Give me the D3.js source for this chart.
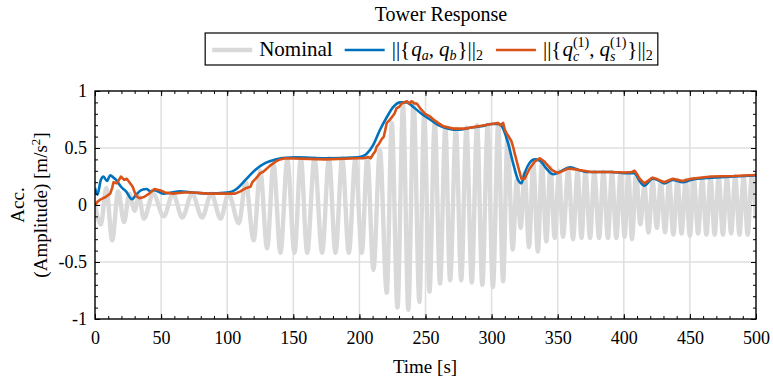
<!DOCTYPE html>
<html>
<head>
<meta charset="utf-8">
<script src="https://cdn.jsdelivr.net/npm/d3@7"></script>
<style>
  body { margin: 0; background: #fff; }
  text { font-family: "Liberation Serif", "Times New Roman", serif; fill: #000; }
</style>
</head>
<body>
<svg id="chart" width="773" height="382"></svg>
<script>
const nomT = [0, 4.5, 8.5, 13, 17.5, 22, 26, 30, 33, 37, 44, 52, 59, 66, 73.5, 81, 88, 95, 101,
  108.8, 114, 120, 125, 130.2, 135, 140.3, 145.5, 150.9, 155.7, 160.5, 166, 171.8, 177, 181.9, 187, 192, 197,
  201.8, 206, 210.6, 215.5, 220.7, 224.5, 228.8, 233, 237, 241, 245.4, 249, 253, 257, 261, 265, 268.6, 273,
  277, 281, 285, 289, 293, 297, 301, 305, 308.7, 312, 316, 319, 322, 325, 328.3, 331.5, 335, 338, 341.4,
  344.5, 347.7, 351, 354, 358, 361.6, 365, 368, 371, 374.5, 377.7, 381.3, 384.6, 388, 391, 394.4, 397.5,
  400.6, 403.4, 406.2, 409.3, 412.5, 415.6, 418.7, 421.8, 425, 428, 431.2, 434.3, 437.5, 440.6, 443.7, 446.8,
  450, 453, 456.2, 459.3, 462.5, 465.6, 468.7, 471.8, 475, 478, 481.2, 484.3, 487.5, 490.6, 493.7, 496.8, 500]
const nomV = [0, -0.17, 0.15, -0.31, 0.12, -0.15, 0.1, -0.05, 0.08, -0.12, 0.1, -0.1, 0.1, -0.11, 0.1, -0.11, 0.1, -0.12, 0.1,
  -0.16, 0.2, -0.31, 0.3, -0.38, 0.36, -0.42, 0.4, -0.42, 0.41, -0.42, 0.41, -0.42, 0.41, -0.42, 0.41, -0.42, 0.41,
  -0.42, 0.42, -0.57, 0.48, -0.77, 0.72, -0.9, 0.88, -0.92, 0.9, -0.85, 0.8, -0.76, 0.73, -0.69, 0.68, -0.66, 0.67,
  -0.66, 0.68, -0.68, 0.7, -0.7, 0.7, -0.72, 0.71, -0.67, 0.6, -0.39, 0.22, -0.2, 0.28, -0.37, 0.37, -0.41, 0.38, -0.32,
  0.33, -0.29, 0.3, -0.28, 0.31, -0.3, 0.3, -0.29, 0.29, -0.29, 0.29, -0.29, 0.29, -0.29, 0.29, -0.29, 0.28,
  -0.28, 0.28, -0.3, 0.27, -0.17, 0.17, -0.24, 0.21, -0.2, 0.2, -0.24, 0.21, -0.26, 0.22, -0.25, 0.22,
  -0.27, 0.23, -0.25, 0.23, -0.26, 0.24, -0.26, 0.24, -0.26, 0.24, -0.25, 0.25, -0.26, 0.25, -0.26, 0.25, -0.12]

// ||{q_a, q_b}||_2
const qabT = [0, 1.8, 4.4, 6.4, 9, 11.5, 14, 16, 19.7, 23.5, 28, 31, 35, 39, 42, 45, 51.6, 58, 64, 74, 85, 100,
  104, 108, 113.8, 121.4, 129, 136.5, 144, 151.7, 174, 199, 203, 205.5, 210.6, 215.6, 220.7, 225.7, 230.8, 235.8,
  240.8, 247, 253.4, 259.7, 267.3, 275, 285, 292.5, 300, 306, 308.7, 312.5, 316.2, 320, 322.5, 325, 328.8, 332.6,
  336.4, 341.4, 346.5, 351.5, 359, 365.4, 371.6, 380.5, 390.6, 400.6, 408, 412, 415.5, 421.8, 425.6, 430.6, 437,
  444.5, 450.8, 466, 483.5, 500]
const qabV = [0.15, 0.09, 0.22, 0.25, 0.21, 0.26, 0.24, 0.22, 0.16, 0.12, 0.05, 0.09, 0.13, 0.14, 0.12, 0.13, 0.1, 0.11, 0.12, 0.11, 0.1, 0.11,
  0.12, 0.15, 0.22, 0.31, 0.37, 0.4, 0.415, 0.418, 0.41, 0.418, 0.43, 0.45, 0.53, 0.66, 0.77, 0.86, 0.9, 0.9,
  0.86, 0.8, 0.75, 0.7, 0.67, 0.66, 0.68, 0.69, 0.71, 0.71, 0.67, 0.54, 0.37, 0.22, 0.19, 0.28, 0.37, 0.4,
  0.39, 0.32, 0.27, 0.29, 0.33, 0.31, 0.29, 0.29, 0.29, 0.28, 0.28, 0.21, 0.17, 0.23, 0.22, 0.19, 0.22,
  0.2, 0.22, 0.24, 0.25, 0.26]

// ||{q_c^(1), q_s^(1)}||_2
const qcsT = [0, 2, 4.4, 8, 11.5, 13, 14, 16.5, 19.7, 22, 24, 26, 28.5, 31, 33.6, 37, 41, 45, 49, 53, 59, 67, 74.8, 85, 100,
  106, 110, 113.8, 117.6, 119, 121.4, 123, 125, 127, 129, 131, 133, 136.5, 140, 144, 174, 199, 203, 206.8, 208.5,
  210.6, 212, 213, 215, 217, 218.5, 220.7, 222.5, 224.5, 226.5, 228.2, 230, 232, 234, 235.8, 237.5, 239.5, 241.5,
  243.4, 246.5, 249.7, 253, 256, 259.5, 263.6, 271, 279.7, 290, 300, 304.7, 306.5, 308.7, 310, 311.3, 313, 315,
  316.5, 317.5, 320, 322.5, 325, 328.8, 332.6, 336.4, 340, 345.2, 350.2, 357.8, 365, 375.5, 390, 400.6, 406,
  408.2, 410, 412, 415.5, 421.8, 425.6, 430.6, 437, 444.5, 450.8, 466, 483.5, 498.6, 500]
const qcsV = [0, 0.03, 0.05, 0.07, 0.1, 0.15, 0.2, 0.19, 0.25, 0.22, 0.23, 0.2, 0.16, 0.08, 0.06, 0.07, 0.1, 0.14, 0.13, 0.11, 0.1, 0.11, 0.11, 0.1, 0.1,
  0.1, 0.12, 0.146, 0.16, 0.2, 0.23, 0.25, 0.28, 0.29, 0.31, 0.33, 0.35, 0.38, 0.4, 0.41, 0.4, 0.41, 0.41, 0.42, 0.41,
  0.45, 0.47, 0.51, 0.54, 0.58, 0.6, 0.72, 0.74, 0.77, 0.8, 0.85, 0.86, 0.89, 0.9, 0.91, 0.89, 0.91, 0.89,
  0.89, 0.84, 0.8, 0.78, 0.75, 0.72, 0.69, 0.67, 0.67, 0.69, 0.71, 0.72, 0.7, 0.72, 0.66, 0.63, 0.6, 0.56,
  0.5, 0.45, 0.34, 0.23, 0.23, 0.32, 0.38, 0.41, 0.38, 0.31, 0.28, 0.32, 0.31, 0.29, 0.29, 0.285, 0.29,
  0.3, 0.27, 0.23, 0.19, 0.24, 0.225, 0.2, 0.23, 0.21, 0.23, 0.25, 0.254, 0.263, 0.265]

const xTicks = [0, 50, 100, 150, 200, 250, 300, 350, 400, 450, 500]
const yTicks = [-1, -0.5, 0, 0.5, 1]
const yTickLabels = ["-1", "-0.5", "0", "0.5", "1"]

const svg = d3.select("#chart")
const pLeft = 95, pRight = 756, pTop = 91, pBottom = 319

const x = d3.scaleLinear().domain([0, 500]).range([pLeft, pRight])
const y = d3.scaleLinear().domain([-1, 1]).range([pBottom, pTop])

const gridColor = "#dfdfdf"

// grid
svg.append("g").selectAll("line")
  .data(xTicks.slice(1, -1))
  .join("line")
    .attr("x1", d => x(d)).attr("x2", d => x(d))
    .attr("y1", pTop).attr("y2", pBottom)
    .attr("stroke", gridColor).attr("stroke-width", 1.5)
svg.append("g").selectAll("line")
  .data(yTicks.slice(1, -1))
  .join("line")
    .attr("y1", d => y(d)).attr("y2", d => y(d))
    .attr("x1", pLeft).attr("x2", pRight)
    .attr("stroke", gridColor).attr("stroke-width", 1.5)

svg.append("clipPath").attr("id", "clip")
  .append("rect").attr("x", pLeft).attr("y", pTop).attr("width", pRight - pLeft).attr("height", pBottom - pTop)

const plot = svg.append("g").attr("clip-path", "url(#clip)")

const series = [
  { t: nomT, v: nomV, color: "#d9d9d9", width: 4.4, curve: d3.curveMonotoneX },
  { t: qabT, v: qabV, color: "#0072bd", width: 2.6, curve: d3.curveMonotoneX },
  { t: qcsT, v: qcsV, color: "#d95319", width: 2.6, curve: d3.curveLinear }
]

series.forEach(s => {
  const line = d3.line()
    .x((d, i) => x(s.t[i]))
    .y(d => y(d))
    .curve(s.curve)
  plot.append("path")
    .attr("d", line(s.v))
    .attr("fill", "none")
    .attr("stroke", s.color)
    .attr("stroke-width", s.width)
    .attr("stroke-linejoin", "round")
})

// axes, ticks pointing inwards on all four sides
const minorX = d3.range(0, 501, 10)
const minorY = d3.range(-10, 11).map(d => d / 10)

function styleAxis(g) {
  g.attr("font-family", null)
  g.select(".domain").remove()
  g.selectAll(".tick line").attr("stroke", "#000").attr("stroke-width", 1)
  g.selectAll("text").style("font-size", "18px")
}

svg.append("g").attr("transform", `translate(0,${pBottom})`)
  .call(d3.axisBottom(x).tickValues(minorX).tickSize(-3).tickFormat(""))
  .call(styleAxis)
svg.append("g").attr("transform", `translate(0,${pTop})`)
  .call(d3.axisTop(x).tickValues(minorX).tickSize(-3).tickFormat(""))
  .call(styleAxis)
svg.append("g").attr("transform", `translate(${pLeft},0)`)
  .call(d3.axisLeft(y).tickValues(minorY).tickSize(-3).tickFormat(""))
  .call(styleAxis)
svg.append("g").attr("transform", `translate(${pRight},0)`)
  .call(d3.axisRight(y).tickValues(minorY).tickSize(-3).tickFormat(""))
  .call(styleAxis)

svg.append("g").attr("transform", `translate(0,${pBottom})`)
  .call(d3.axisBottom(x).tickValues(xTicks).tickSize(-5).tickPadding(12).tickFormat(d3.format("d")))
  .call(styleAxis)
svg.append("g").attr("transform", `translate(0,${pTop})`)
  .call(d3.axisTop(x).tickValues(xTicks).tickSize(-5).tickFormat(""))
  .call(styleAxis)
svg.append("g").attr("transform", `translate(${pLeft},0)`)
  .call(d3.axisLeft(y).tickValues(yTicks).tickSize(-5).tickPadding(8).tickFormat((d, i) => yTickLabels[i]))
  .call(styleAxis)
svg.append("g").attr("transform", `translate(${pRight},0)`)
  .call(d3.axisRight(y).tickValues(yTicks).tickSize(-5).tickFormat(""))
  .call(styleAxis)

svg.append("rect")
  .attr("x", pLeft).attr("y", pTop).attr("width", pRight - pLeft).attr("height", pBottom - pTop)
  .attr("fill", "none").attr("stroke", "#000").attr("stroke-width", 1.4)

// labels
svg.append("text").attr("x", 441).attr("y", 21).attr("text-anchor", "middle")
  .style("font-size", "20px").text("Tower Response")

svg.append("text").attr("x", 425).attr("y", 373).attr("text-anchor", "middle")
  .style("font-size", "19px").text("Time [s]")

svg.append("text").attr("transform", "translate(24,205) rotate(-90)").attr("text-anchor", "middle")
  .style("font-size", "19px").text("Acc.")
const yl = svg.append("text").attr("transform", "translate(47,205) rotate(-90)").attr("text-anchor", "middle")
  .style("font-size", "19px")
yl.append("tspan").text("(Amplitude) [m/s")
yl.append("tspan").attr("dy", -7).style("font-size", "13px").text("2")
yl.append("tspan").attr("dy", 7).text("]")

// legend
const legend = svg.append("g")
const lgY = 56
const fs = 21, fsSub = 14
let cx = 0
function piece(str, opts = {}) {
  const t = legend.append("text")
    .attr("x", cx)
    .attr("y", lgY + (opts.dy || 0))
    .style("font-size", (opts.size || fs) + "px")
    .style("font-style", opts.italic ? "italic" : "normal")
    .text(str)
  const w = t.node().getComputedTextLength()
  if (!opts.noAdvance) cx += w + (opts.gap || 0)
  return w
}
function sample(color, width) {
  legend.append("line").attr("x1", cx).attr("x2", cx + 40)
    .attr("y1", lgY - 6).attr("y2", lgY - 6)
    .attr("stroke", color).attr("stroke-width", width)
  cx += 47
}

cx = 7
sample(series[0].color, 4.4)
piece("Nominal")
cx += 12
sample(series[1].color, 2.6)
piece("||{", { gap: 1 })
piece("q", { italic: true })
piece("a", { italic: true, size: fsSub, dy: 4 })
piece(",", { gap: 5 })
piece("q", { italic: true })
piece("b", { italic: true, size: fsSub, dy: 4, gap: 1 })
piece("}||")
piece("2", { size: fsSub, dy: 4 })
cx += 13
sample(series[2].color, 2.6)
piece("||{", { gap: 1 })
piece("q", { italic: true })
piece("c", { italic: true, size: fsSub, dy: 5, noAdvance: true })
piece("(1)", { size: fsSub, dy: -9 })
piece(",", { gap: 5 })
piece("q", { italic: true })
piece("s", { italic: true, size: fsSub, dy: 5, noAdvance: true })
piece("(1)", { size: fsSub, dy: -9, gap: 1 })
piece("}||")
piece("2", { size: fsSub, dy: 4 })
cx += 5

const lgW = cx, lgX = 431.5 - lgW / 2
legend.insert("rect", ":first-child")
  .attr("x", 0).attr("y", 33).attr("width", lgW).attr("height", 32)
  .attr("fill", "#fff").attr("stroke", "#000").attr("stroke-width", 1.2)
legend.attr("transform", `translate(${lgX},0)`)
</script>
</body>
</html>
